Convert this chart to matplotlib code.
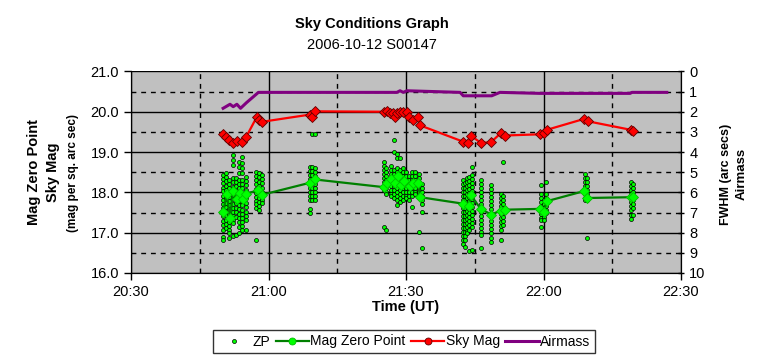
import matplotlib
matplotlib.use('Agg')
import matplotlib.pyplot as plt
from matplotlib.lines import Line2D
from matplotlib.ticker import MultipleLocator, FixedLocator

plt.rcParams['font.family'] = ['Liberation Sans', 'DejaVu Sans']

# all times are minutes after 20:00 UT

# ZP: single measurements, one column of magnitudes per exposure time
zp_col_time = [50.1, 50.7, 51.4, 52.3, 52.9, 53.6, 54.3, 55.0, 57.3, 58.0, 58.5,
               69.1, 69.6, 70.1,
               85.1, 85.7, 86.7, 87.4, 88.0, 88.6, 89.3, 89.9, 90.6, 91.3, 91.9, 92.8, 93.5,
               102.4, 102.9, 103.4, 103.8, 104.3, 106.3, 108.5, 110.8, 111.1,
               119.4, 120.0, 120.5, 129.1, 129.6,
               139.0, 139.5]
zp_col_mag = [
    [18.43, 18.33, 18.22, 18.12, 18.03, 17.92, 17.82, 17.71, 17.62, 17.51, 17.41, 17.30, 17.20, 17.07, 16.90, 16.82],
    [18.47, 18.37, 18.27, 18.16, 18.06, 17.95, 17.85, 17.74, 17.64, 17.53, 17.43, 17.32, 17.21, 17.11],
    [18.31, 18.21, 18.10, 18.00, 17.89, 17.79, 17.68, 17.58, 17.47, 17.37, 17.26, 17.16, 17.06, 16.98, 16.86],
    [18.93, 18.80, 18.68, 18.35, 18.25, 18.14, 18.04, 17.93, 17.83, 17.72, 17.62, 17.52, 17.41, 17.32, 17.23, 16.92],
    [18.35, 18.25, 18.15, 18.04, 17.94, 17.83, 17.73, 17.62, 17.51, 17.39, 16.94],
    [18.76, 18.62, 18.47, 18.31, 18.21, 18.10, 18.00, 17.89, 17.79, 17.68, 17.58, 17.47, 17.36, 17.26, 17.15, 16.98],
    [18.88, 18.72, 18.60, 18.47, 18.31, 18.20, 18.10, 17.99, 17.89, 17.78, 17.68, 17.57, 17.47, 17.37, 17.26, 17.16, 17.07],
    [18.39, 18.28, 18.18, 18.07, 17.96, 17.85, 17.74, 17.63, 17.52, 17.41, 17.31, 17.07],
    [18.51, 18.41, 18.30, 18.20, 18.09, 17.99, 17.89, 17.79, 17.70, 17.60, 16.83],
    [18.47, 18.37, 18.26, 18.16, 18.05, 17.95, 17.85, 17.76, 17.66, 17.56],
    [18.43, 18.32, 18.22, 18.11, 18.01, 17.91, 17.82, 17.73],
    [18.64, 18.54, 18.43, 18.33, 18.22, 18.12, 18.02, 17.91, 17.81, 17.58, 17.48],
    [19.45, 18.64, 18.54, 18.43, 18.33, 18.22, 18.12, 18.02, 17.91, 17.81],
    [19.45, 18.60, 18.50, 18.40, 18.30, 18.20, 18.10, 18.00, 17.90, 17.81],
    [18.75, 18.65, 18.55, 18.45, 18.35, 18.25, 18.15, 18.05, 17.13],
    [18.60, 18.50, 18.40, 18.30, 18.20, 18.10, 18.00, 17.95, 17.06],
    [18.65, 18.55, 18.45, 18.35, 18.25, 18.15, 18.05, 17.95, 17.90],
    [19.30, 19.00, 18.55, 18.45, 18.35, 18.25, 18.15, 18.05, 17.95, 17.85],
    [18.95, 18.85, 18.60, 18.50, 18.40, 18.30, 18.20, 18.10, 18.00, 17.90, 17.80, 17.68],
    [18.85, 18.55, 18.45, 18.35, 18.25, 18.15, 18.05, 17.95, 17.85, 17.77],
    [18.60, 18.50, 18.40, 18.30, 18.20, 18.10, 18.00, 17.90, 17.80],
    [18.50, 18.40, 18.30, 18.20, 18.10, 18.00, 17.90, 17.85],
    [18.40, 18.30, 18.20, 18.10, 18.00, 17.90, 17.80],
    [18.50, 18.40, 18.30, 18.20, 18.10, 18.00, 17.90, 17.64],
    [18.50, 18.40, 18.30, 18.20, 18.10, 18.00, 17.95],
    [18.45, 18.35, 18.25, 18.15, 18.05, 18.00, 17.02],
    [18.20, 18.10, 18.00, 17.90, 17.80, 17.70, 17.52, 16.61],
    [18.31, 18.21, 18.11, 18.01, 17.91, 17.81, 17.71, 17.61, 17.51, 17.41, 17.31, 17.21, 17.11, 17.01, 16.92, 16.82, 16.71],
    [18.22, 18.12, 18.02, 17.92, 17.82, 17.72, 17.62, 17.52, 17.42, 17.32, 17.22, 17.12, 17.02, 16.92, 16.82, 16.65],
    [18.35, 18.25, 18.15, 18.05, 17.95, 17.85, 17.75, 17.65, 17.55, 17.45, 17.35, 17.25, 17.15, 17.05, 16.98],
    [18.39, 18.29, 18.19, 18.09, 17.99, 17.89, 17.79, 17.69, 17.59, 17.49, 17.39, 17.29, 17.19, 17.06, 16.55],
    [18.62, 18.43, 18.33, 18.23, 18.13, 18.03, 17.93, 17.83, 17.73, 17.63, 17.53, 17.43, 17.33, 17.23, 17.15, 16.57],
    [18.31, 18.21, 18.11, 18.01, 17.91, 17.81, 17.71, 17.61, 17.51, 17.41, 17.31, 17.21, 17.11, 17.01, 16.94, 16.61],
    [18.18, 18.08, 17.98, 17.88, 17.78, 17.68, 17.58, 17.48, 17.38, 17.28, 17.18, 17.08, 16.98, 16.88, 16.77],
    [17.97, 17.87, 17.77, 17.67, 17.57, 17.47, 17.37, 17.27, 17.17, 17.06, 16.82],
    [18.76, 17.90, 17.80, 17.70, 17.60, 17.50, 17.40, 17.30, 17.20],
    [18.18, 17.97, 17.87, 17.77, 17.67, 17.57, 17.47, 17.37, 17.31, 17.15],
    [17.80, 17.70, 17.60, 17.50, 17.40, 17.31],
    [18.25, 17.97, 17.87, 17.77, 17.67, 17.57, 17.48],
    [18.45, 18.35, 18.25, 18.15, 18.05, 17.95, 17.85, 17.81],
    [18.35, 18.25, 18.15, 18.05, 17.95, 17.85, 17.81, 16.86],
    [18.26, 18.16, 18.06, 17.96, 17.86, 17.76, 17.66, 17.56, 17.45, 17.35],
    [18.20, 18.10, 18.00, 17.90, 17.80, 17.70, 17.60, 17.45],
]

mzp_time = [50.1, 50.9, 51.6, 52.3, 53.1, 53.8, 54.4, 55.1, 57.8, 58.6,
            69.1, 70.1,
            85.1, 85.8, 86.7, 87.6, 88.2, 88.9, 89.6, 90.9, 91.6, 92.7, 93.1,
            102.4, 103.8, 104.1, 106.3, 108.6, 110.7, 111.6,
            119.2, 120.1, 120.7, 128.8, 129.6, 139.1, 139.6]
mzp_mag = [17.51, 17.97, 17.36, 18.03, 17.84, 17.98, 17.84, 17.97, 18.05, 17.94,
           18.24, 18.32,
           18.13, 18.23, 18.32, 18.22, 18.41, 18.19, 18.28, 18.17, 18.22, 18.22, 17.88,
           17.72, 17.65, 17.94, 17.59, 17.45, 17.55, 17.57,
           17.59, 17.51, 17.78, 18.03, 17.86, 17.88, 17.88]

sky_time = [50.1, 50.7, 51.4, 52.3, 53.2, 54.2, 55.1, 57.4, 58.0, 58.6,
            69.1, 69.6, 70.1,
            85.1, 85.8, 86.5, 87.2, 87.6, 88.0, 88.7, 89.4, 90.2, 90.7, 91.5, 92.7, 93.1,
            102.4, 103.6, 104.1, 106.3, 108.5, 110.7, 111.6,
            119.2, 120.0, 120.7, 128.8, 129.8, 139.1, 139.6]
sky_mag = [19.44, 19.37, 19.30, 19.23, 19.28, 19.26, 19.37, 19.86, 19.80, 19.75,
           19.93, 19.88, 20.01,
           20.00, 20.02, 19.98, 19.96, 19.86, 19.96, 19.99, 20.00, 20.00, 19.88, 19.80, 19.86, 19.66,
           19.26, 19.22, 19.41, 19.23, 19.24, 19.47, 19.41,
           19.44, 19.48, 19.55, 19.82, 19.76, 19.55, 19.52]

air_time = [50.1, 51.6, 52.3, 53.1, 53.9, 55.2, 57.8, 88.0, 88.7, 89.4, 90.2, 91.6,
            101.8, 102.5, 108.7, 110.5, 119.2, 138.9, 139.3, 146.9]
air_mass = [1.83, 1.63, 1.75, 1.63, 1.83, 1.55, 1.04, 1.04, 0.96, 1.04, 0.96, 0.97,
            1.04, 1.21, 1.21, 1.04, 1.09, 1.09, 1.04, 1.04]

tick_pos = [30, 60, 90, 120, 150]
tick_lab = ["20:30", "21:00", "21:30", "22:00", "22:30"]

zp_t = [t for t, col in zip(zp_col_time, zp_col_mag) for m in col]
zp_m = [m for col in zp_col_mag for m in col]

fig = plt.figure(figsize=(7.63, 3.58), dpi=100)
ax = fig.add_axes([131 / 763, 1 - 273 / 358, 550 / 763, 201.6 / 358])
ax.set_facecolor('#c0c0c0')
ax.set_xlim(30, 150)
ax.set_ylim(16, 21)

ax.xaxis.set_major_locator(FixedLocator(tick_pos))
ax.set_xticklabels(tick_lab)
ax.xaxis.set_minor_locator(MultipleLocator(15))
ax.yaxis.set_major_locator(MultipleLocator(1))
ax.yaxis.set_minor_locator(MultipleLocator(0.5))
ax.yaxis.set_major_formatter(lambda v, p: f"{v:.1f}")
ax.grid(which='major', color='black', lw=1, ls='-')
ax.grid(which='minor', color='black', lw=1, ls=(0, (3.5, 3.5)))
ax.set_axisbelow(True)
ax.tick_params(which='minor', length=0)
ax.tick_params(which='major', length=5, width=1, labelsize=10.5, color='black')
ax.spines['top'].set_visible(False)

ax.plot(zp_t, zp_m, ls='none', marker='o', ms=2.9, mfc='#00ff00', mec='black', mew=0.5, zorder=3)
ax.plot(mzp_time, mzp_mag, color='#008000', lw=1.6, marker='D', ms=5,
        mfc='#00ff00', mec='#00c000', mew=0.6, zorder=4)
ax.plot(sky_time, sky_mag, color='#ff0000', lw=1.6, marker='D', ms=5,
        mfc='#ff0000', mec='#600000', mew=0.6, zorder=4)

ax2 = ax.twinx()
ax2.set_ylim(10, 0)
ax2.set_yticks(range(11))
ax2.tick_params(length=5, width=1, labelsize=10.5, direction='inout')
ax2.spines['top'].set_visible(False)
ax2.plot(air_time, air_mass, color='#800080', lw=2.2)

ax.set_xlabel("Time (UT)", fontsize=10.5, fontweight='bold', labelpad=1)

fig.text(372 / 763, 1 - 24 / 358, "Sky Conditions Graph", ha='center', va='center',
         fontsize=10.5, fontweight='bold')
fig.text(372 / 763, 1 - 45 / 358, "2006-10-12 S00147", ha='center', va='center', fontsize=10.5)

fig.text(34 / 763, 1 - 172 / 358, "Mag Zero Point", rotation=90, ha='center', va='center',
         fontsize=10.5, fontweight='bold')
fig.text(53 / 763, 1 - 172 / 358, "Sky Mag", rotation=90, ha='center', va='center',
         fontsize=10.5, fontweight='bold')
fig.text(73 / 763, 1 - 173 / 358, "(mag per sq. arc sec)", rotation=90, ha='center', va='center',
         fontsize=8.5, fontweight='bold')
fig.text(726 / 763, 1 - 174 / 358, "FWHM (arc secs)", rotation=90, ha='center', va='center',
         fontsize=9, fontweight='bold')
fig.text(742 / 763, 1 - 174 / 358, "Airmass", rotation=90, ha='center', va='center',
         fontsize=9.5, fontweight='bold')

handles = [
    Line2D([], [], ls='none', marker='o', ms=2.9, mfc='#00ff00', mec='black', mew=0.5),
    Line2D([], [], color='#008000', lw=1.6, marker='o', ms=5, mfc='#00ff00', mec='#00c000', mew=0.6),
    Line2D([], [], color='#ff0000', lw=1.6, marker='o', ms=5, mfc='#ff0000', mec='#600000', mew=0.6),
    Line2D([], [], color='#800080', lw=2.2),
]
leg = fig.legend(handles, ["ZP", "Mag Zero Point", "Sky Mag", "Airmass"], ncol=4,
                 loc='center', bbox_to_anchor=(404 / 763, 1 - 341.5 / 358), fontsize=10,
                 frameon=True, fancybox=False, edgecolor='black', handlelength=2.4,
                 handletextpad=0.1, columnspacing=0.4, borderpad=0.35)
leg.get_frame().set_linewidth(1)

fig.savefig("out.png", dpi=100)
